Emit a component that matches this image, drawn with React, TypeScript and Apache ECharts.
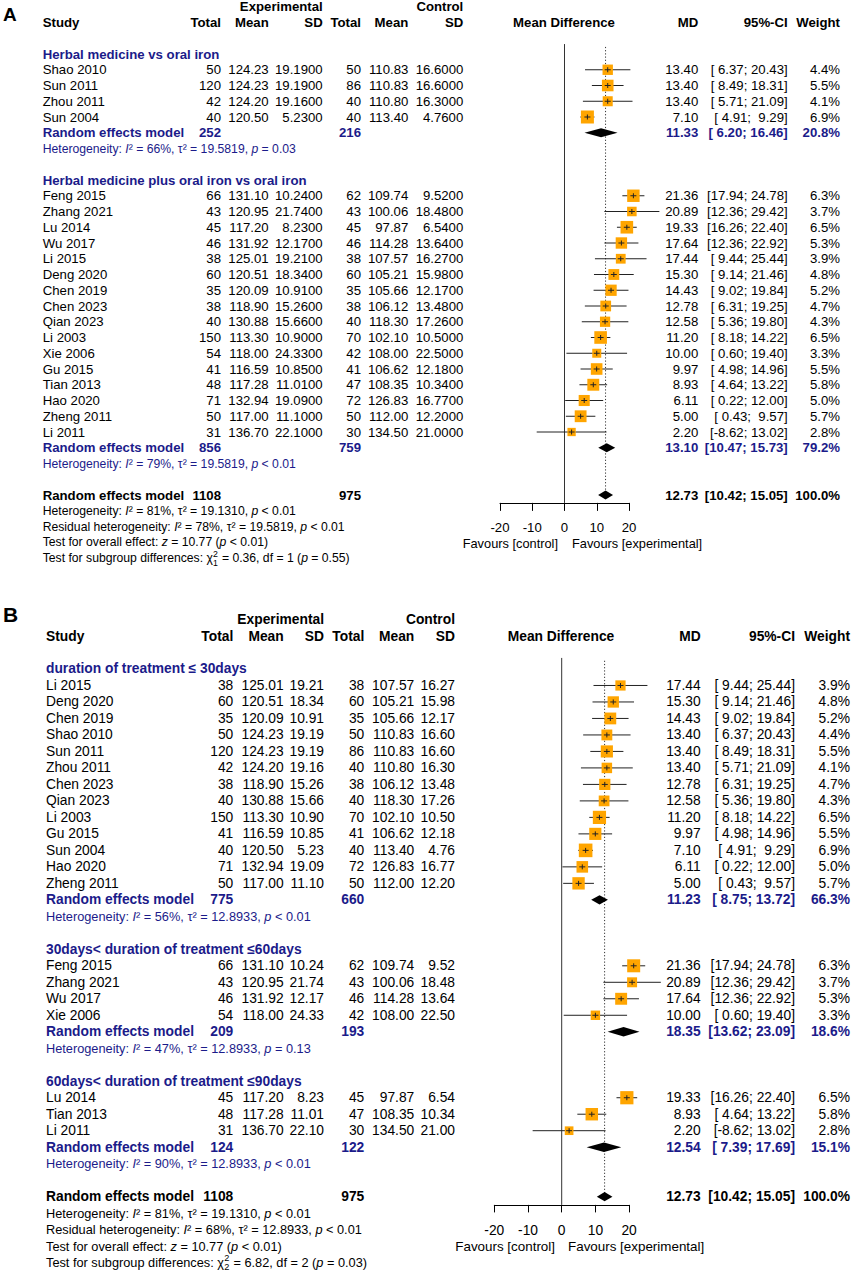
import React, { useEffect, useRef } from "react";
import * as echarts from "echarts";

// ---------------- DATA ----------------
const studyNames = ["Shao 2010", "Sun 2011", "Zhou 2011", "Sun 2004", "Feng 2015", "Zhang 2021", "Lu 2014", "Wu 2017", "Li 2015", "Deng 2020", "Chen 2019", "Chen 2023", "Qian 2023", "Li 2003", "Xie 2006", "Gu 2015", "Tian 2013", "Hao 2020", "Zheng 2011", "Li 2011"];
const expTotal = [50, 120, 42, 40, 66, 43, 45, 46, 38, 60, 35, 38, 40, 150, 54, 41, 48, 71, 50, 31];
const expMean = [124.23, 124.23, 124.2, 120.5, 131.1, 120.95, 117.2, 131.92, 125.01, 120.51, 120.09, 118.9, 130.88, 113.3, 118.0, 116.59, 117.28, 132.94, 117.0, 136.7];
const expSD = [19.19, 19.19, 19.16, 5.23, 10.24, 21.74, 8.23, 12.17, 19.21, 18.34, 10.91, 15.26, 15.66, 10.9, 24.33, 10.85, 11.01, 19.09, 11.1, 22.1];
const ctrlTotal = [50, 86, 40, 40, 62, 43, 45, 46, 38, 60, 35, 38, 40, 70, 42, 41, 47, 72, 50, 30];
const ctrlMean = [110.83, 110.83, 110.8, 113.4, 109.74, 100.06, 97.87, 114.28, 107.57, 105.21, 105.66, 106.12, 118.3, 102.1, 108.0, 106.62, 108.35, 126.83, 112.0, 134.5];
const ctrlSD = [16.6, 16.6, 16.3, 4.76, 9.52, 18.48, 6.54, 13.64, 16.27, 15.98, 12.17, 13.48, 17.26, 10.5, 22.5, 12.18, 10.34, 16.77, 12.2, 21.0];
const mdValue = [13.4, 13.4, 13.4, 7.1, 21.36, 20.89, 19.33, 17.64, 17.44, 15.3, 14.43, 12.78, 12.58, 11.2, 10.0, 9.97, 8.93, 6.11, 5.0, 2.2];
const ciLower = [6.37, 8.49, 5.71, 4.91, 17.94, 12.36, 16.26, 12.36, 9.44, 9.14, 9.02, 6.31, 5.36, 8.18, 0.6, 4.98, 4.64, 0.22, 0.43, -8.62];
const ciUpper = [20.43, 18.31, 21.09, 9.29, 24.78, 29.42, 22.4, 22.92, 25.44, 21.46, 19.84, 19.25, 19.8, 14.22, 19.4, 14.96, 13.22, 12.0, 9.57, 13.02];
const weightPct = [4.4, 5.5, 4.1, 6.9, 6.3, 3.7, 6.5, 5.3, 3.9, 4.8, 5.2, 4.7, 4.3, 6.5, 3.3, 5.5, 5.8, 5.0, 5.7, 2.8];

const xTicks = [-20, 20, 10]; // min, max, interval

const groupsA = [
  { label: "Herbal medicine vs oral iron", members: ["Shao 2010", "Sun 2011", "Zhou 2011", "Sun 2004"], nE: 252, nC: 216, md: 11.33, lo: 6.2, hi: 16.46, w: 20.8, het: ["66%", "19.5819", "= 0.03"] },
  { label: "Herbal medicine plus oral iron vs oral iron", members: ["Feng 2015", "Zhang 2021", "Lu 2014", "Wu 2017", "Li 2015", "Deng 2020", "Chen 2019", "Chen 2023", "Qian 2023", "Li 2003", "Xie 2006", "Gu 2015", "Tian 2013", "Hao 2020", "Zheng 2011", "Li 2011"], nE: 856, nC: 759, md: 13.1, lo: 10.47, hi: 15.73, w: 79.2, het: ["79%", "19.5819", "< 0.01"] },
];
const groupsB = [
  { label: "duration of treatment ≤ 30days", members: ["Li 2015", "Deng 2020", "Chen 2019", "Shao 2010", "Sun 2011", "Zhou 2011", "Chen 2023", "Qian 2023", "Li 2003", "Gu 2015", "Sun 2004", "Hao 2020", "Zheng 2011"], nE: 775, nC: 660, md: 11.23, lo: 8.75, hi: 13.72, w: 66.3, het: ["56%", "12.8933", "< 0.01"] },
  { label: "30days< duration of treatment ≤60days", members: ["Feng 2015", "Zhang 2021", "Wu 2017", "Xie 2006"], nE: 209, nC: 193, md: 18.35, lo: 13.62, hi: 23.09, w: 18.6, het: ["47%", "12.8933", "= 0.13"] },
  { label: "60days< duration of treatment ≤90days", members: ["Lu 2014", "Tian 2013", "Li 2011"], nE: 124, nC: 122, md: 12.54, lo: 7.39, hi: 17.69, w: 15.1, het: ["90%", "12.8933", "< 0.01"] },
];
const overall = { nE: 1108, nC: 975, md: 12.73, lo: 10.42, hi: 15.05, w: 100.0 };
const overallHet = ["81%", "19.1310", "< 0.01"];
const residualHetA = ["78%", "19.5819", "< 0.01"];
const residualHetB = ["68%", "12.8933", "< 0.01"];
const overallZ = ["10.77", "< 0.01"];
const subgroupTestA = ["0.36", "1", "= 0.55"];
const subgroupTestB = ["6.82", "2", "= 0.03"];

// ---------------- STYLE / LAYOUT ----------------
const FONT = "'Liberation Sans', Arial, Helvetica, sans-serif";
const BLUE = "#1b1b8a";
const ORANGE = "#FFA500";

const panelA = {
  key: "A", top: 22.5, pitch: 15.75, axisRow: 30.5, gridLeft: 500, gridWidth: 129,
  fs: 13.2, fsSmall: 12.2, sdDigits: 4,
  x: { study: 42.7, nE: 221, mE: 268.7, sdE: 322.7, nC: 361, mC: 408.3, sdC: 463.3, mdHead: 564, md: 698.3, ci: 787.7, w: 840 },
  labelX: 3, labelY: 14, labelSize: 19,
  tickLen: 8, tickMargin: 18, favY: 543, favCtrlRight: 558, favExpLeft: 572,
  sqK: 4.95, diamondH: 4.5, zeroStart: 1.37, dotStart: 1.55,
  groups: groupsA, residual: residualHetA, subgroup: subgroupTestA,
};
const panelB = {
  key: "B", top: 636, pitch: 16.49, axisRow: 34.5, gridLeft: 494.3, gridWidth: 134.8,
  fs: 13.8, fsSmall: 12.75, sdDigits: 2,
  x: { study: 46, nE: 233.3, mE: 283.7, sdE: 324, nC: 364.3, mC: 414.3, sdC: 455, mdHead: 561, md: 700.7, ci: 795, w: 850 },
  labelX: 3, labelY: 614, labelSize: 21,
  tickLen: 7.5, tickMargin: 19, favY: 1246, favCtrlRight: 555, favExpLeft: 568,
  sqK: 5.18, diamondH: 4.7, zeroStart: 1.33, dotStart: 1.5,
  groups: groupsB, residual: residualHetB, subgroup: subgroupTestB,
};

const measure = (text: string, size: number, italic = false, bold = false) => {
  const c = document.createElement("canvas").getContext("2d") as CanvasRenderingContext2D;
  c.font = `${italic ? "italic " : ""}${bold ? "bold " : ""}${size}px ${FONT}`;
  return c.measureText(text).width;
};

const pad5 = (s: string) => (s.length < 5 ? "\u00A0".repeat(5 - s.length) + s : s);
const fmtCI = (lo: number, hi: number) => `[${pad5(lo.toFixed(2))}; ${pad5(hi.toFixed(2))}]`;

function buildPanel(cfg: any, panelIndex: number) {
  const els: any[] = [];
  const seriesData: any[] = [];
  const yPix = (row: number) => cfg.top + row * cfg.pitch;
  const richFor = (size: number, color: string) => ({
    it: { fontStyle: "italic", fontSize: size, fontFamily: FONT, fill: color },
  });
  const txt = (x: number, row: number, text: string, o: any = {}) => {
    const align = o.align || "left";
    const size = o.size || cfg.fs;
    const color = o.color || "#000";
    els.push({
      type: "text", x, y: o.y !== undefined ? o.y : yPix(row), silent: true,
      style: {
        text, fill: color, fontSize: size, fontFamily: FONT,
        fontWeight: o.bold ? "bold" : "normal", fontStyle: o.italic ? "italic" : "normal",
        align, textAlign: align, verticalAlign: "middle", textVerticalAlign: "middle",
        rich: o.rich ? richFor(size, color) : undefined,
      },
    });
  };
  const X = cfg.x;

  // panel letter
  txt(cfg.labelX, 0, cfg.key, { y: cfg.labelY, size: cfg.labelSize, bold: true });

  // headers
  txt(X.sdE, -1, "Experimental", { bold: true, align: "right" });
  txt(X.sdC, -1, "Control", { bold: true, align: "right" });
  txt(X.study, 0, "Study", { bold: true });
  txt(X.nE, 0, "Total", { bold: true, align: "right" });
  txt(X.mE, 0, "Mean", { bold: true, align: "right" });
  txt(X.sdE, 0, "SD", { bold: true, align: "right" });
  txt(X.nC, 0, "Total", { bold: true, align: "right" });
  txt(X.mC, 0, "Mean", { bold: true, align: "right" });
  txt(X.sdC, 0, "SD", { bold: true, align: "right" });
  txt(X.mdHead, 0, "Mean Difference", { bold: true, align: "center" });
  txt(X.md, 0, "MD", { bold: true, align: "right" });
  txt(X.ci, 0, "95%-CI", { bold: true, align: "right" });
  txt(X.w, 0, "Weight", { bold: true, align: "right" });

  let row = 2;
  cfg.groups.forEach((g: any) => {
    txt(X.study, row, g.label, { bold: true, color: BLUE });
    g.members.forEach((name: string, k: number) => {
      const i = studyNames.indexOf(name);
      const r = row + 1 + k;
      txt(X.study, r, name);
      txt(X.nE, r, String(expTotal[i]), { align: "right" });
      txt(X.mE, r, expMean[i].toFixed(2), { align: "right" });
      txt(X.sdE, r, expSD[i].toFixed(cfg.sdDigits), { align: "right" });
      txt(X.nC, r, String(ctrlTotal[i]), { align: "right" });
      txt(X.mC, r, ctrlMean[i].toFixed(2), { align: "right" });
      txt(X.sdC, r, ctrlSD[i].toFixed(cfg.sdDigits), { align: "right" });
      txt(X.md, r, mdValue[i].toFixed(2), { align: "right" });
      txt(X.ci, r, fmtCI(ciLower[i], ciUpper[i]), { align: "right" });
      txt(X.w, r, weightPct[i].toFixed(1) + "%", { align: "right" });
      seriesData.push([mdValue[i], ciLower[i], ciUpper[i], r, weightPct[i], 0]);
    });
    const re = row + 1 + g.members.length;
    txt(X.study, re, "Random effects model", { bold: true, color: BLUE });
    txt(X.nE, re, String(g.nE), { bold: true, color: BLUE, align: "right" });
    txt(X.nC, re, String(g.nC), { bold: true, color: BLUE, align: "right" });
    txt(X.md, re, g.md.toFixed(2), { bold: true, color: BLUE, align: "right" });
    txt(X.ci, re, fmtCI(g.lo, g.hi), { bold: true, color: BLUE, align: "right" });
    txt(X.w, re, g.w.toFixed(1) + "%", { bold: true, color: BLUE, align: "right" });
    seriesData.push([g.md, g.lo, g.hi, re, g.w, 1]);
    txt(X.study, re + 1, `Heterogeneity: {it|I}² = ${g.het[0]}, τ² = ${g.het[1]}, {it|p} ${g.het[2]}`, { size: cfg.fsSmall, color: BLUE, rich: true });
    row = re + 3;
  });

  // overall
  const ov = row;
  txt(X.study, ov, "Random effects model", { bold: true });
  txt(X.nE, ov, String(overall.nE), { bold: true, align: "right" });
  txt(X.nC, ov, String(overall.nC), { bold: true, align: "right" });
  txt(X.md, ov, overall.md.toFixed(2), { bold: true, align: "right" });
  txt(X.ci, ov, fmtCI(overall.lo, overall.hi), { bold: true, align: "right" });
  txt(X.w, ov, overall.w.toFixed(1) + "%", { bold: true, align: "right" });
  seriesData.push([overall.md, overall.lo, overall.hi, ov, overall.w, 2]);

  const s = cfg.fsSmall;
  txt(X.study, ov + 1, `Heterogeneity: {it|I}² = ${overallHet[0]}, τ² = ${overallHet[1]}, {it|p} ${overallHet[2]}`, { size: s, rich: true });
  txt(X.study, ov + 2, `Residual heterogeneity: {it|I}² = ${cfg.residual[0]}, τ² = ${cfg.residual[1]}, {it|p} ${cfg.residual[2]}`, { size: s, rich: true });
  txt(X.study, ov + 3, `Test for overall effect: {it|z} = ${overallZ[0]} ({it|p} ${overallZ[1]})`, { size: s, rich: true });
  // subgroup test with stacked sup/sub
  const pre = "Test for subgroup differences: χ";
  const wPre = measure(pre, s);
  const yS = yPix(ov + 4);
  txt(X.study, 0, pre, { size: s, y: yS });
  txt(X.study + wPre + 0.3, 0, "2", { size: s * 0.72, y: yS - 4.5 });
  txt(X.study + wPre + 0.3, 0, cfg.subgroup[1], { size: s * 0.72, y: yS + 4.5 });
  const wSup = measure("2", s * 0.72);
  txt(X.study + wPre + wSup + 0.8, 0, ` = ${cfg.subgroup[0]}, df = ${cfg.subgroup[1]} ({it|p} ${cfg.subgroup[2]})`, { size: s, y: yS, rich: true });

  // favours labels
  txt(cfg.favCtrlRight, 0, "Favours [control]", { y: cfg.favY, align: "right", size: cfg.fs - 0.4 });
  txt(cfg.favExpLeft, 0, "Favours [experimental]", { y: cfg.favY, size: cfg.fs - 0.4 });

  const grid = {
    left: cfg.gridLeft, width: cfg.gridWidth, top: cfg.top, height: cfg.axisRow * cfg.pitch,
    containLabel: false, outerBoundsMode: "none",
  };
  const xAxis = {
    gridIndex: panelIndex, type: "value", min: xTicks[0], max: xTicks[1], interval: xTicks[2],
    axisLine: { show: true, onZero: false, lineStyle: { color: "#000", width: 1 } },
    axisTick: { show: true, length: cfg.tickLen, lineStyle: { color: "#000", width: 1 } },
    axisLabel: { color: "#000", fontSize: cfg.fs, fontFamily: FONT, margin: cfg.tickMargin },
    splitLine: { show: false },
  };
  const yAxis = { gridIndex: panelIndex, type: "value", min: 0, max: cfg.axisRow, inverse: true, show: false };

  const series = [
    {
      type: "line", xAxisIndex: panelIndex, yAxisIndex: panelIndex, symbol: "none", silent: true, z: 1,
      data: [[0, cfg.zeroStart], [0, cfg.axisRow]],
      lineStyle: { color: "#333", width: 1 },
    },
    {
      type: "line", xAxisIndex: panelIndex, yAxisIndex: panelIndex, symbol: "none", silent: true, z: 1,
      data: [[overall.md, cfg.dotStart], [overall.md, ov]],
      lineStyle: { color: "#333", width: 1, type: [1.2, 2] },
    },
    {
      type: "custom", xAxisIndex: panelIndex, yAxisIndex: panelIndex, silent: true, z: 3, clip: false,
      encode: { x: [0, 1, 2], y: 3 },
      data: seriesData,
      renderItem: (_p: any, api: any) => {
        const md = api.value(0), lo = api.value(1), hi = api.value(2), r = api.value(3), w = api.value(4), kind = api.value(5);
        const pM = api.coord([md, r]);
        const pL = api.coord([lo, r]);
        const pH = api.coord([hi, r]);
        if (kind === 0) {
          const sz = cfg.sqK * Math.sqrt(w);
          return {
            type: "group",
            children: [
              { type: "line", shape: { x1: pL[0], y1: pL[1], x2: pH[0], y2: pH[1] }, style: { stroke: "#222", lineWidth: 1 } },
              { type: "rect", shape: { x: pM[0] - sz / 2, y: pM[1] - sz / 2, width: sz, height: sz }, style: { fill: ORANGE } },
              { type: "line", shape: { x1: pM[0] - 3, y1: pM[1], x2: pM[0] + 3, y2: pM[1] }, style: { stroke: "#222", lineWidth: 1 } },
              { type: "line", shape: { x1: pM[0], y1: pM[1] - 2.5, x2: pM[0], y2: pM[1] + 2.5 }, style: { stroke: "#222", lineWidth: 1 } },
            ],
          };
        }
        const h = cfg.diamondH;
        return {
          type: "polygon",
          shape: { points: [[pL[0], pL[1]], [pM[0], pM[1] - h], [pH[0], pH[1]], [pM[0], pM[1] + h]] },
          style: { fill: "#000" },
        };
      },
    },
  ];
  return { els, grid, xAxis, yAxis, series };
}

export default function App() {
  const ref = useRef<HTMLDivElement>(null);
  useEffect(() => {
    if (!ref.current) return;
    document.body.style.margin = "0";
    const chart = echarts.init(ref.current, null, { renderer: "svg" });
    const a = buildPanel(panelA, 0);
    const b = buildPanel(panelB, 1);
    chart.setOption({
      animation: false,
      backgroundColor: "#fff",
      grid: [a.grid, b.grid],
      xAxis: [a.xAxis, b.xAxis],
      yAxis: [a.yAxis, b.yAxis],
      series: [...a.series, ...b.series],
      graphic: { elements: [...a.els, ...b.els] },
    });
    return () => chart.dispose();
  }, []);
  return (
    <div
      ref={ref}
      style={{ position: "absolute", left: 0, top: 0, width: 858, height: 1273, background: "#fff" }}
    />
  );
}
